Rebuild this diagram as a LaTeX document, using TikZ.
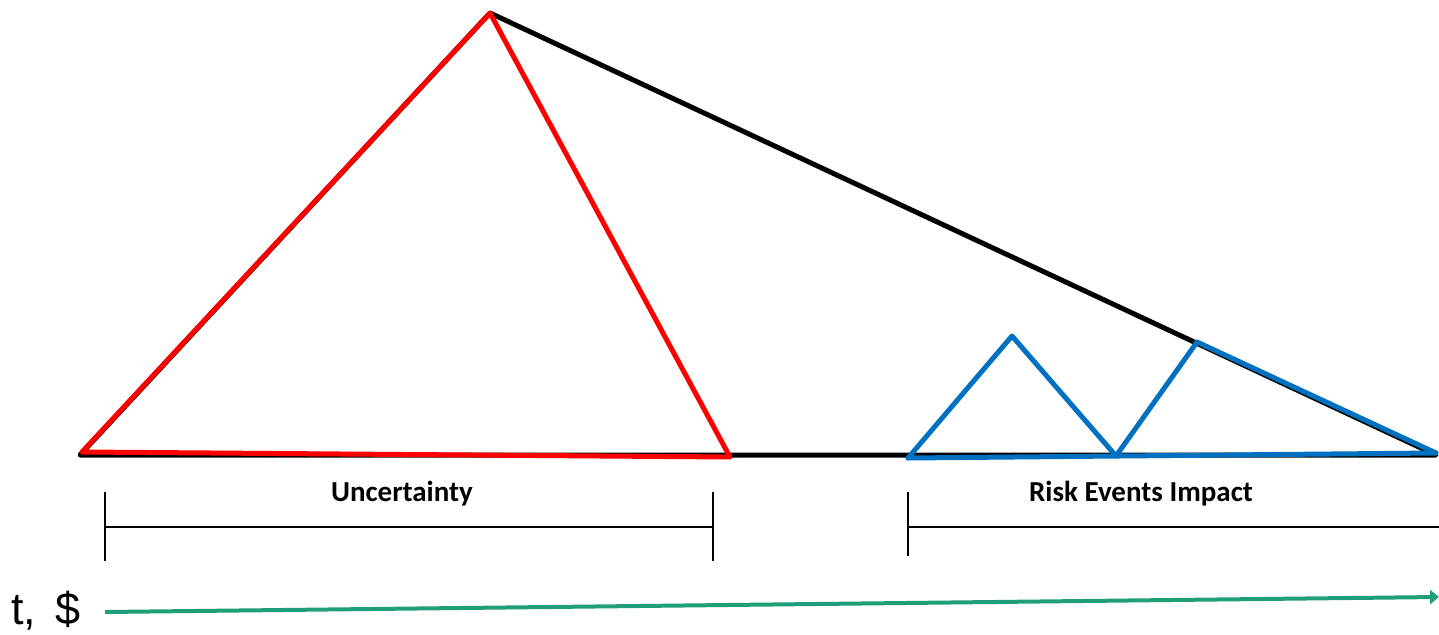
\documentclass[tikz,border=0pt]{standalone}
\usepackage{fontspec}
\setmainfont{Carlito}
\newfontfamily\arialf{Liberation Sans}
\usetikzlibrary{arrows.meta}
\definecolor{tred}{RGB}{255,0,0}
\definecolor{tblue}{RGB}{0,112,192}
\definecolor{tgreen}{RGB}{31,158,120}
\begin{document}
\begin{tikzpicture}[x=1pt,y=-1pt,
  thick line/.style={line width=5pt,line cap=round,line join=round},
  bracket/.style={line width=1.5pt},
  lbl/.style={font=\fontsize{29}{32}\selectfont\bfseries,inner sep=0pt,anchor=base}]
\useasboundingbox (0,0) rectangle (1439,634);
% coordinates
\coordinate (L) at (80,455);
\coordinate (A) at (490,13);
\coordinate (R) at (1436,455);
\coordinate (RL) at (82,452);
\coordinate (RR) at (730,457);
\coordinate (B1) at (908,458);
\coordinate (B2) at (1012,336);
\coordinate (B3) at (1116,456);
\coordinate (B4) at (1197,342);
\coordinate (B5) at (1436,453);
% black triangle
\draw[thick line,black] (L) -- (A) -- (R) -- cycle;
% red triangle
\draw[thick line,tred] (RL) -- (A) -- (RR) -- cycle;
% blue shape
\draw[thick line,tblue] (B1) -- (B2) -- (B3) -- (B4) -- (B5);
\draw[thick line,tblue] (B1) -- (B5);
% brackets
\coordinate (U1) at (105,527);
\coordinate (U2) at (713,527);
\draw[bracket] (U1) -- (U2);
\draw[bracket] (105,492) -- (105,561);
\draw[bracket] (713,492) -- (713,561);
\node[lbl] (unc) at (402,501) {Uncertainty};
\coordinate (V1) at (908,527);
\coordinate (V2) at (1439,527);
\draw[bracket] (V1) -- (V2);
\draw[bracket] (908,492) -- (908,556);
\node[lbl] (risk) at (1141,501) {Risk Events Impact};
% axis arrow
\coordinate (G1) at (105,612);
\coordinate (G2) at (1439,597);
\draw[tgreen,line width=4pt,-{Triangle[length=9pt,width=14pt]}] (G1) -- (G2);
\node[font=\arialf\fontsize{45}{48}\selectfont,anchor=base west,inner sep=0pt] (ts) at (11,624) {t,\hspace{0.15em} \$};
\end{tikzpicture}
\end{document}
